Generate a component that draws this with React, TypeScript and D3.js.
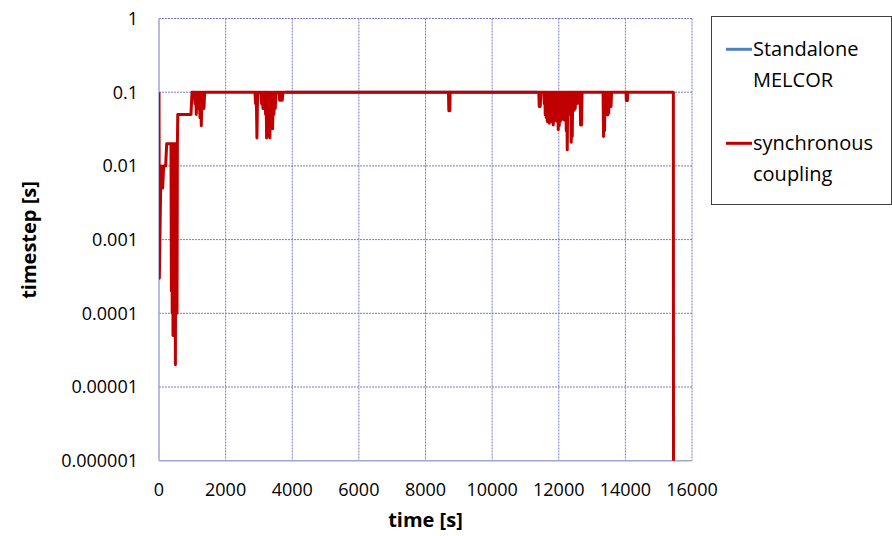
import React, { useEffect, useRef } from 'react';
import * as d3 from 'd3';

// synchronous coupling, [time s, timestep s], split by region of the run
const startup: [number, number][] = [
  [0, 0.1], [10, 0.0003], [50, 0.005], [80, 0.01], [110, 0.005], [140, 0.01], [200, 0.01], [230, 0.02],
  [360, 0.02], [372, 0.0002], [384, 0.02], [396, 0.0001], [408, 0.02], [420, 0.00005], [432, 0.02],
  [444, 0.0002], [456, 0.02], [468, 0.0001], [480, 0.02], [492, 0.00002], [504, 0.02], [516, 0.0001],
  [528, 0.01], [540, 0.0001], [552, 0.02], [564, 0.05], [960, 0.05], [990, 0.1]
];
const earlyDips: [number, number][] = [
  [1060, 0.1], [1080, 0.07], [1100, 0.1], [1120, 0.05], [1140, 0.1], [1170, 0.1], [1190, 0.06],
  [1210, 0.1], [1230, 0.045], [1250, 0.1], [1270, 0.035], [1290, 0.1], [1310, 0.06], [1330, 0.1],
  [1350, 0.06], [1370, 0.1]
];
const dips3000: [number, number][] = [
  [2880, 0.1], [2900, 0.07], [2920, 0.1], [2940, 0.024], [2960, 0.1], [3050, 0.1], [3080, 0.07],
  [3100, 0.1], [3120, 0.06], [3140, 0.1], [3180, 0.1], [3200, 0.05], [3215, 0.1], [3230, 0.024],
  [3250, 0.1], [3265, 0.03], [3280, 0.1], [3300, 0.025], [3315, 0.1], [3330, 0.024], [3350, 0.1],
  [3370, 0.04], [3390, 0.1], [3410, 0.032], [3430, 0.1], [3450, 0.05], [3470, 0.1], [3490, 0.06],
  [3510, 0.1], [3600, 0.1], [3620, 0.078], [3640, 0.1], [3660, 0.078], [3680, 0.1], [3700, 0.078],
  [3720, 0.1]
];
const dips8700: [number, number][] = [
  [8690, 0.1], [8700, 0.056], [8720, 0.1], [8730, 0.056], [8740, 0.1]
];
const dips12000: [number, number][] = [
  [11400, 0.1], [11415, 0.064], [11430, 0.1], [11445, 0.064], [11460, 0.1],
  [11550, 0.1], [11565, 0.07], [11580, 0.1], [11595, 0.049], [11610, 0.1], [11625, 0.045], [11640, 0.1],
  [11655, 0.04], [11670, 0.1], [11685, 0.042], [11700, 0.1], [11715, 0.038], [11730, 0.1], [11745, 0.04],
  [11760, 0.1], [11775, 0.044], [11790, 0.1], [11805, 0.04], [11820, 0.1], [11835, 0.036], [11850, 0.1],
  [11865, 0.04], [11880, 0.1], [11895, 0.046], [11910, 0.1], [11925, 0.045], [11940, 0.1], [11955, 0.04],
  [11970, 0.1], [11985, 0.031], [12000, 0.1], [12015, 0.035], [12030, 0.1], [12045, 0.04], [12060, 0.1],
  [12075, 0.042], [12090, 0.1], [12105, 0.045], [12120, 0.1], [12135, 0.05], [12150, 0.1], [12165, 0.042],
  [12180, 0.1], [12195, 0.045], [12210, 0.1], [12225, 0.03], [12240, 0.1], [12255, 0.0165], [12270, 0.1],
  [12285, 0.05], [12300, 0.1], [12315, 0.052], [12330, 0.1], [12345, 0.05], [12360, 0.1], [12375, 0.021],
  [12390, 0.1], [12405, 0.025], [12420, 0.1], [12435, 0.06], [12450, 0.1], [12465, 0.057], [12480, 0.1],
  [12495, 0.06], [12510, 0.1], [12525, 0.074], [12540, 0.1], [12555, 0.07], [12570, 0.1], [12640, 0.1],
  [12655, 0.036], [12670, 0.1], [12685, 0.036], [12700, 0.1]
];
const dips13500: [number, number][] = [
  [13330, 0.1], [13345, 0.025], [13360, 0.1], [13375, 0.03], [13390, 0.1], [13410, 0.052], [13425, 0.1],
  [13440, 0.05], [13455, 0.1], [13470, 0.049], [13485, 0.1], [13500, 0.052], [13515, 0.1], [13540, 0.064],
  [13555, 0.1], [13570, 0.064], [13585, 0.1],
  [14020, 0.1], [14030, 0.077], [14050, 0.1], [14060, 0.077], [14070, 0.1]
];
const shutdown: [number, number][] = [[15440, 0.1], [15445, 1e-7]];

// standalone MELCOR (lies under the coupled run)
const standalone: [number, number][] = [[3800, 0.1], [8600, 0.1], [8800, 0.1], [11350, 0.1]];

const seriesNames = [['Standalone', 'MELCOR'], ['synchronous', 'coupling']];
const seriesColors = ['#4f81bd', '#c00000'];

const xTicks = [0, 2000, 4000, 6000, 8000, 10000, 12000, 14000, 16000];
const yTicks = [1, 0.1, 0.01, 0.001, 0.0001, 0.00001, 0.000001];
const yTickLabels = ['1', '0.1', '0.01', '0.001', '0.0001', '0.00001', '0.000001'];

export default function App() {
  const ref = useRef<SVGSVGElement>(null);

  useEffect(() => {
    const svg = d3.select(ref.current);
    svg.selectAll('*').remove();
    const font = "'Open Sans', sans-serif";

    const x = d3.scaleLinear().domain([0, 16000]).range([159, 692]);
    const y = d3.scaleLog().domain([0.000001, 1]).range([460.7, 18.5]);

    svg.append('defs').append('clipPath').attr('id', 'plot-clip')
      .append('rect').attr('x', 159).attr('y', 17).attr('width', 533).attr('height', 443.7);

    // gridlines
    svg.append('g').selectAll('line').data(yTicks.slice(0, -1)).enter().append('line')
      .attr('x1', 159).attr('x2', 692).attr('y1', d => y(d)).attr('y2', d => y(d))
      .attr('stroke', '#7a7ac8').attr('stroke-width', 1).attr('stroke-dasharray', '2,1');
    svg.append('g').selectAll('line').data(xTicks.slice(1)).enter().append('line')
      .attr('x1', d => x(d)).attr('x2', d => x(d)).attr('y1', 18.5).attr('y2', 460.7)
      .attr('stroke', '#7a7ac8').attr('stroke-width', 1).attr('stroke-dasharray', '2,1');

    // axis lines
    svg.append('line').attr('x1', 159).attr('x2', 159).attr('y1', 18.5).attr('y2', 460.7)
      .attr('stroke', '#a3a3d1').attr('stroke-width', 1.5);
    svg.append('line').attr('x1', 159).attr('x2', 692).attr('y1', 460.7).attr('y2', 460.7)
      .attr('stroke', '#a3a3d1').attr('stroke-width', 1.5);

    // series
    const line = d3.line<[number, number]>()
      .x(d => x(d[0]))
      .y(d => y(d[1]));
    const coupled = [...startup, ...earlyDips, ...dips3000, ...dips8700, ...dips12000, ...dips13500, ...shutdown];
    [standalone, coupled].forEach((data, i) => {
      svg.append('path')
        .attr('d', line(data))
        .attr('fill', 'none')
        .attr('stroke', seriesColors[i])
        .attr('stroke-width', 3)
        .attr('stroke-linejoin', 'round')
        .attr('clip-path', 'url(#plot-clip)');
    });

    // tick labels
    svg.append('g').selectAll('text').data(yTicks).enter().append('text')
      .attr('x', 138).attr('y', d => y(d)).attr('dy', '0.35em')
      .attr('text-anchor', 'end').attr('font-family', font).attr('font-size', 18).attr('fill', '#000')
      .text((_, i) => yTickLabels[i]);
    svg.append('g').selectAll('text').data(xTicks).enter().append('text')
      .attr('x', d => x(d)).attr('y', 496)
      .attr('text-anchor', 'middle').attr('font-family', font).attr('font-size', 18).attr('fill', '#000')
      .text(d => String(d));

    // axis titles
    svg.append('text').attr('x', 425.5).attr('y', 527).attr('text-anchor', 'middle')
      .attr('font-family', font).attr('font-weight', 'bold').attr('font-size', 20).text('time [s]');
    svg.append('text').attr('transform', 'translate(36,240) rotate(-90)').attr('text-anchor', 'middle')
      .attr('font-family', font).attr('font-weight', 'bold').attr('font-size', 20).text('timestep [s]');

    // legend
    svg.append('rect').attr('x', 711.5).attr('y', 16.5).attr('width', 180).attr('height', 188)
      .attr('fill', '#fff').attr('stroke', '#404040').attr('stroke-width', 1);
    const lineY = [49.3, 143.3];
    seriesNames.forEach((names, i) => {
      svg.append('line').attr('x1', 726).attr('x2', 752).attr('y1', lineY[i]).attr('y2', lineY[i])
        .attr('stroke', seriesColors[i]).attr('stroke-width', 3);
      names.forEach((n, j) => {
        svg.append('text').attr('x', 753).attr('y', lineY[i] + 6.5 + j * 31)
          .attr('font-family', font).attr('font-size', 20).attr('fill', '#000').text(n);
      });
    });
  }, []);

  return (
    <svg ref={ref} width={892} height={536}
      style={{ position: 'absolute', left: 0, top: 0, background: '#fff' }} />
  );
}
